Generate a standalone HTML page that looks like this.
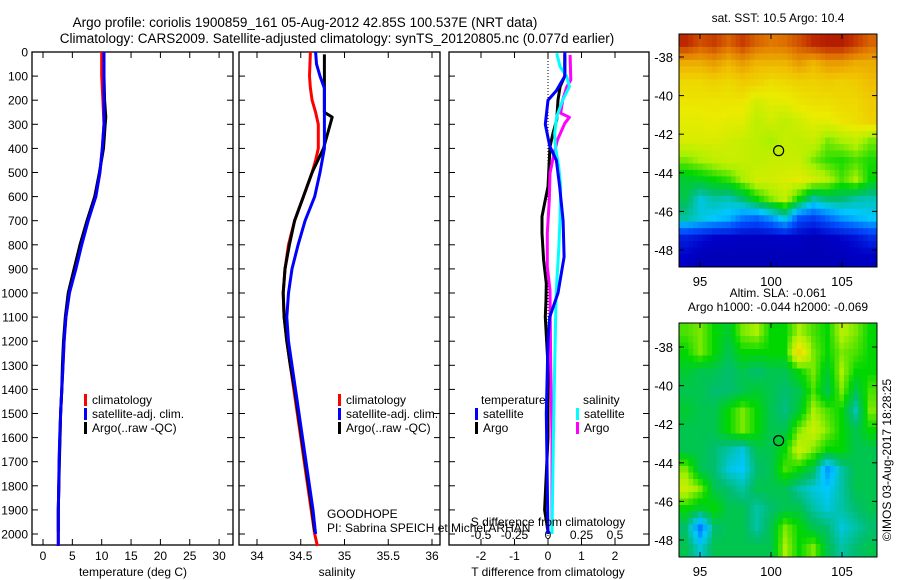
<!DOCTYPE html>
<html><head><meta charset="utf-8"><style>
html,body{margin:0;padding:0;background:#fff;}
svg{display:block;font-family:"Liberation Sans",sans-serif;}
</style></head><body>
<svg id="fig" width="900" height="580" xmlns="http://www.w3.org/2000/svg">
<text x="305" y="27" font-size="13.5" text-anchor="middle">Argo profile: coriolis 1900859_161 05-Aug-2012 42.85S 100.537E (NRT data)</text>
<text x="337" y="43" font-size="13.5" text-anchor="middle">Climatology: CARS2009. Satellite-adjusted climatology: synTS_20120805.nc (0.077d earlier)</text>
<g id="g"></g>
</svg>
<script>
// ---- data ----
const depthTicks=[0,100,200,300,400,500,600,700,800,900,1000,1100,1200,1300,1400,1500,1600,1700,1800,1900,2000];
const tempTicks=[0,5,10,15,20,25,30];
const salTicks=[34,34.5,35,35.5,36];
const salTickLabels=["34","34.5","35","35.5","36"];
const tdTicks=[-2,-1,0,1,2];
const sdTicks=[-0.5,-0.25,0,0.25,0.5];
const sdTickLabels=["-0.5","-0.25","0","0.25","0.5"];

const profDepth=[0,100,200,300,400,500,600,700,800,900,1000,1100,1200,1300,1400,1500,1600,1700,1800,1900,2000,2050];
const tempClim=[10.0,10.0,10.2,10.4,10.1,9.7,9.0,7.6,6.5,5.5,4.5,3.9,3.6,3.4,3.2,3.0,2.9,2.75,2.7,2.6,2.6,2.6];
const tempSat=[10.4,10.4,10.4,10.4,10.1,9.7,9.0,7.7,6.6,5.6,4.5,3.9,3.6,3.4,3.2,3.0,2.85,2.75,2.7,2.6,2.6,2.6];
const argoDepth=[10,100,200,270,300,400,500,600,700,800,900,1000,1100,1200,1300,1400,1500,1600,1700,1800,1900,1990];
const tempArgo=[10.4,10.4,10.5,10.7,10.6,10.3,9.6,8.8,7.5,6.3,5.3,4.3,3.8,3.5,3.3,3.2,3.0,2.9,2.8,2.7,2.6,2.6];

const salClimDepth=[0,100,150,200,250,300,400,450,500,600,700,800,900,1000,1100,1200,1300,1400,1500,1600,1700,1800,1900,2000,2050];
const salClim=[34.61,34.60,34.61,34.63,34.67,34.70,34.70,34.67,34.63,34.53,34.43,34.36,34.32,34.30,34.31,34.34,34.38,34.42,34.46,34.50,34.54,34.58,34.62,34.66,34.69];
const salSatDepth=[0,50,100,150,200,300,400,500,600,700,800,900,1000,1100,1200,1300,1400,1500,1600,1700,1800,1900,2000];
const salSat=[34.67,34.68,34.72,34.77,34.77,34.77,34.77,34.72,34.66,34.55,34.47,34.40,34.36,34.34,34.36,34.40,34.44,34.48,34.52,34.56,34.60,34.64,34.67];
const salArgoDepth=[10,150,250,270,400,500,600,700,800,900,1000,1100,1200,1300,1400,1500,1600,1700,1800,1900,1990];
const salArgo=[34.77,34.77,34.77,34.86,34.76,34.63,34.53,34.43,34.37,34.32,34.30,34.31,34.34,34.38,34.43,34.47,34.51,34.55,34.59,34.63,34.66];

const tdSatDepth=[0,100,160,200,300,390,450,560,700,850,1000,1100,1200,1500,2000];
const tdSat=[0.5,0.5,0.25,0.0,-0.08,0.05,0.25,0.35,0.45,0.48,0.3,0.05,0.0,-0.05,0.0];
const tdArgoDepth=[10,100,144,199,282,337,393,476,559,628,683,752,863,960,1029,1100,1300,1600,1900,1990];
const tdArgo=[0.5,0.5,0.36,0.3,0.26,0.15,0.06,0.03,0.0,-0.1,-0.18,-0.18,-0.13,-0.05,-0.06,-0.08,0.0,0.0,-0.1,0.0];
const sdSatDepth=[5,61,102,144,199,268,337,393,476,559,683,822,960,1029,1300,1600,2000];
const sdSat=[0.065,0.09,0.14,0.16,0.11,0.065,0.05,0.055,0.08,0.095,0.09,0.08,0.065,0.06,0.05,0.04,0.03];
const sdArgoDepth=[12,116,144,199,254,271,296,365,434,503,614,752,891,988,1300,1600,1990];
const sdArgo=[0.165,0.17,0.14,0.11,0.095,0.16,0.125,0.07,0.04,0.015,0.01,-0.005,-0.005,0.015,0.02,0.03,0.03];

const mapLonTicks=[95,100,105];
const mapLatTicks=[-38,-40,-42,-44,-46,-48];
const sstGrid=[
[0.92,0.88,0.9,0.86,0.9,0.86,0.84,0.85,0.88,0.92,0.94,0.94,0.9,0.86],
[0.78,0.78,0.8,0.77,0.8,0.77,0.77,0.77,0.8,0.77,0.8,0.8,0.78,0.78],
[0.72,0.72,0.73,0.72,0.74,0.73,0.71,0.72,0.73,0.73,0.74,0.73,0.74,0.76],
[0.7,0.7,0.7,0.7,0.7,0.66,0.68,0.68,0.7,0.71,0.71,0.72,0.72,0.74],
[0.68,0.68,0.69,0.68,0.68,0.64,0.66,0.64,0.66,0.68,0.68,0.7,0.71,0.73],
[0.67,0.67,0.67,0.66,0.65,0.64,0.62,0.65,0.64,0.65,0.6,0.62,0.64,0.6],
[0.6,0.62,0.64,0.65,0.65,0.64,0.65,0.65,0.65,0.6,0.57,0.56,0.58,0.56],
[0.52,0.53,0.55,0.57,0.62,0.66,0.66,0.67,0.68,0.66,0.63,0.58,0.62,0.55],
[0.5,0.42,0.45,0.44,0.48,0.55,0.6,0.64,0.55,0.45,0.48,0.48,0.45,0.44],
[0.45,0.42,0.4,0.38,0.32,0.3,0.35,0.42,0.28,0.25,0.3,0.35,0.38,0.4],
[0.2,0.18,0.15,0.15,0.14,0.14,0.14,0.15,0.14,0.12,0.14,0.16,0.18,0.22],
[0.15,0.12,0.12,0.12,0.12,0.12,0.12,0.12,0.12,0.12,0.12,0.12,0.14,0.14]];
const slaGrid=[
[0.58,0.6,0.55,0.52,0.6,0.62,0.55,0.55,0.62,0.58,0.55,0.63,0.6,0.55],
[0.55,0.6,0.55,0.5,0.55,0.55,0.55,0.55,0.72,0.6,0.55,0.6,0.58,0.55],
[0.52,0.5,0.5,0.48,0.5,0.48,0.5,0.5,0.55,0.6,0.52,0.62,0.55,0.55],
[0.5,0.5,0.48,0.48,0.5,0.52,0.5,0.48,0.5,0.58,0.5,0.6,0.5,0.58],
[0.52,0.5,0.5,0.55,0.6,0.55,0.5,0.47,0.52,0.62,0.58,0.55,0.44,0.6],
[0.5,0.5,0.5,0.55,0.6,0.55,0.5,0.5,0.6,0.65,0.6,0.55,0.5,0.55],
[0.5,0.5,0.48,0.45,0.42,0.5,0.5,0.55,0.65,0.6,0.55,0.55,0.5,0.5],
[0.6,0.5,0.48,0.42,0.4,0.48,0.5,0.58,0.55,0.5,0.35,0.45,0.5,0.5],
[0.65,0.6,0.5,0.48,0.45,0.5,0.5,0.5,0.45,0.42,0.4,0.45,0.5,0.5],
[0.55,0.52,0.55,0.5,0.5,0.45,0.48,0.5,0.5,0.45,0.42,0.45,0.48,0.5],
[0.48,0.32,0.48,0.5,0.5,0.45,0.5,0.6,0.55,0.5,0.48,0.42,0.45,0.48],
[0.5,0.42,0.5,0.5,0.5,0.5,0.5,0.62,0.55,0.6,0.5,0.45,0.48,0.5]];
const argoLon=100.537, argoLat=-42.85;

// ---- drawing ----
const NS="http://www.w3.org/2000/svg";
const G=document.getElementById('g');
function mk(tag,attrs,parent){const e=document.createElementNS(NS,tag);for(const k in attrs)e.setAttribute(k,attrs[k]);(parent||G).appendChild(e);return e;}
function txt(x,y,s,size,anchor,parent){const t=mk('text',{x:x,y:y,'font-size':size||12,'text-anchor':anchor||'middle'},parent);t.textContent=s;return t;}
const yTop=52, yPerM=0.241;
const yD=d=>yTop+d*yPerM;
const yBot=545;

function panel(name,x0,x1){
  const g=mk('g',{});
  
  
  const r=mk('rect',{x:x0,y:yTop,width:x1-x0,height:yBot-yTop,fill:'none',stroke:'#000','stroke-width':1.3},g);
  
  
  depthTicks.forEach(d=>{mk('line',{x1:x0,x2:x0+6,y1:yD(d),y2:yD(d),stroke:'#000'},g);mk('line',{x1:x1-6,x2:x1,y1:yD(d),y2:yD(d),stroke:'#000'},g);});
  return g;
}
function xticks(g,xs,labels,yLab){
  xs.forEach((x,i)=>{mk('line',{x1:x,x2:x,y1:yTop,y2:yTop+6,stroke:'#000'},g);mk('line',{x1:x,x2:x,y1:yBot-6,y2:yBot,stroke:'#000'},g);
    if(labels){const t=txt(x,yLab,labels[i],12,'middle',g);}});
}
function line(g,xs,ys,color,name,w){
  const pts=xs.map((x,i)=>x.toFixed(1)+','+ys[i].toFixed(1)).join(' ');
  const p=mk('polyline',{points:pts,fill:'none',stroke:color,'stroke-width':w||3,'stroke-linejoin':'round'},g);
  
  
}
function legend(g,x,y,color,label,name){
  mk('rect',{x:x,y:y-10,width:3,height:12,fill:color},g);
  const t=txt(x+8,y,label,12,'start',g);
  
  
}

const dl=mk('g',{});


depthTicks.forEach(d=>{txt(28,yD(d)+4.5,String(d),12,'end',dl);});

// temperature panel
const xT=t=>43+t*5.87;
const p1=panel('temperature-panel',32,233);
xticks(p1,tempTicks.map(xT),tempTicks.map(String),560);
line(p1,tempClim.map(xT),profDepth.map(yD),'#ff0000','temp-climatology-line');
line(p1,tempArgo.map(xT),argoDepth.map(yD),'#000000','temp-argo-line');
line(p1,tempSat.map(xT),profDepth.map(yD),'#0000ff','temp-satellite-line');
txt(133,576,'temperature (deg C)',12,'middle',p1);
legend(p1,84,404,'#ff0000','climatology','legend-climatology');
legend(p1,84,418,'#0000ff','satellite-adj. clim.','legend-satellite');
legend(p1,84,432,'#000000','Argo(..raw -QC)','legend-argo');

// salinity panel
const xS=s=>257+(s-34)*87.5;
const p2=panel('salinity-panel',239,440);
xticks(p2,salTicks.map(xS),salTickLabels,560);
line(p2,salClim.map(xS),salClimDepth.map(yD),'#ff0000','sal-climatology-line');
line(p2,salArgo.map(xS),salArgoDepth.map(yD),'#000000','sal-argo-line');
line(p2,salSat.map(xS),salSatDepth.map(yD),'#0000ff','sal-satellite-line');
txt(337,576,'salinity',12,'middle',p2);
legend(p2,338,404,'#ff0000','climatology','legend-climatology');
legend(p2,338,418,'#0000ff','satellite-adj. clim.','legend-satellite');
legend(p2,338,432,'#000000','Argo(..raw -QC)','legend-argo');
txt(327,518,'GOODHOPE',12,'start',p2);
txt(327,532,'PI: Sabrina SPEICH et Michel ARHAN',12,'start',p2);

// difference panel
const xTd=d=>548+d*33.5, xSd=d=>548+d*134;
const p3=panel('difference-panel',449,649);
xticks(p3,tdTicks.map(xTd),tdTicks.map(String),560);
sdTicks.forEach((s,i)=>{const t=txt(xSd(s),539,sdTickLabels[i],12,'middle',p3);});
mk('line',{x1:xTd(0),x2:xTd(0),y1:yTop,y2:yBot,stroke:'#000','stroke-dasharray':'1,2'},p3);
line(p3,tdArgo.map(xTd),tdArgoDepth.map(yD),'#000000','tdiff-argo-line');
line(p3,sdArgo.map(xSd),sdArgoDepth.map(yD),'#ff00ff','sdiff-argo-line');
line(p3,sdSat.map(xSd),sdSatDepth.map(yD),'#00ffff','sdiff-satellite-line');
line(p3,tdSat.map(xTd),tdSatDepth.map(yD),'#0000ff','tdiff-satellite-line');
txt(548,576,'T difference from climatology',12,'middle',p3);
txt(548,526,'S difference from climatology',12,'middle',p3);
txt(481,404,'temperature',12,'start',p3);
txt(583,404,'salinity',12,'start',p3);
legend(p3,475,418,'#0000ff','satellite','legend-t-satellite');
legend(p3,475,432,'#000000','Argo','legend-t-argo');
legend(p3,576,418,'#00ffff','satellite','legend-s-satellite');
legend(p3,576,432,'#ff00ff','Argo','legend-s-argo');

// maps
const cmapStops=[[0,[0,0,120]],[0.15,[0,0,200]],[0.28,[0,80,255]],[0.4,[0,200,255]],[0.48,[0,190,110]],[0.55,[0,215,0]],[0.62,[170,240,0]],[0.69,[235,235,0]],[0.76,[240,190,0]],[0.84,[225,120,0]],[0.92,[190,40,0]],[1,[150,0,0]]];
function cmap(v){
  for(let i=1;i<cmapStops.length;i++){if(v<=cmapStops[i][0]){const a=cmapStops[i-1],b=cmapStops[i],f=(v-a[0])/(b[0]-a[0]);
    return 'rgb('+a[1].map((c,k)=>Math.round(c+(b[1][k]-c)*f)).join(',')+')';}}
  return 'rgb(150,0,0)';
}
function sample(grid,fi,fj){
  const R=grid.length-1,C=grid[0].length-1;
  fi=Math.max(0,Math.min(R,fi));fj=Math.max(0,Math.min(C,fj));
  const i0=Math.floor(fi),j0=Math.floor(fj),i1=Math.min(R,i0+1),j1=Math.min(C,j0+1),a=fi-i0,b=fj-j0;
  return grid[i0][j0]*(1-a)*(1-b)+grid[i1][j0]*a*(1-b)+grid[i0][j1]*(1-a)*b+grid[i1][j1]*a*b;
}
function drawMap(name,grid,top,bot,latY38,latY48,titleLines){
  const g=mk('g',{});
  
  
  const L=679,R=877;
  const xLon=lon=>700+(lon-95)*14.2;
  const pxLat=(latY48-latY38)/10;
  const yLat=lat=>latY38+(-38-lat)*pxLat;
  const nr=grid.length*3, nc=grid[0].length*3;
  const cw=(R-L)/nc, ch=(bot-top)/nr;
  for(let i=0;i<nr;i++)for(let j=0;j<nc;j++){
    const v=sample(grid,(i+0.5)/3-0.5,(j+0.5)/3-0.5);
    const c=mk('rect',{x:(L+j*cw).toFixed(2),y:(top+i*ch).toFixed(2),width:(cw+0.5).toFixed(2),height:(ch+0.5).toFixed(2),fill:cmap(v)},g);
    
    
  }
  mk('rect',{x:L,y:top,width:R-L,height:bot-top,fill:'none',stroke:'#000'},g);
  mapLonTicks.forEach(lon=>{const x=xLon(lon);mk('line',{x1:x,x2:x,y1:top,y2:top+5,stroke:'#000'},g);mk('line',{x1:x,x2:x,y1:bot-5,y2:bot,stroke:'#000'},g);txt(x,bot+19,String(lon),13,'middle',g);});
  mapLatTicks.forEach(lat=>{const y=yLat(lat);mk('line',{x1:L,x2:L+5,y1:y,y2:y,stroke:'#000'},g);mk('line',{x1:R-5,x2:R,y1:y,y2:y,stroke:'#000'},g);txt(673,y+5,String(lat),13,'end',g);});
  const m=mk('circle',{cx:xLon(argoLon),cy:yLat(argoLat),r:5,fill:'none',stroke:'#000','stroke-width':1.2},g);
  
  
  titleLines.forEach((s,i)=>txt(778,top-12-(titleLines.length-1-i)*14,s,12,'middle',g));
}
drawMap('sst-map',sstGrid,34,267,57,250,['sat. SST: 10.5 Argo: 10.4']);
drawMap('sla-map',slaGrid,323,557,347,540,['Altim. SLA: -0.061','Argo h1000: -0.044 h2000: -0.069']);
const cr=txt(0,0,'©IMOS 03-Aug-2017 18:28:25',12,'middle');
cr.setAttribute('transform','translate(891,460) rotate(-90)');


</script>
</body></html>
